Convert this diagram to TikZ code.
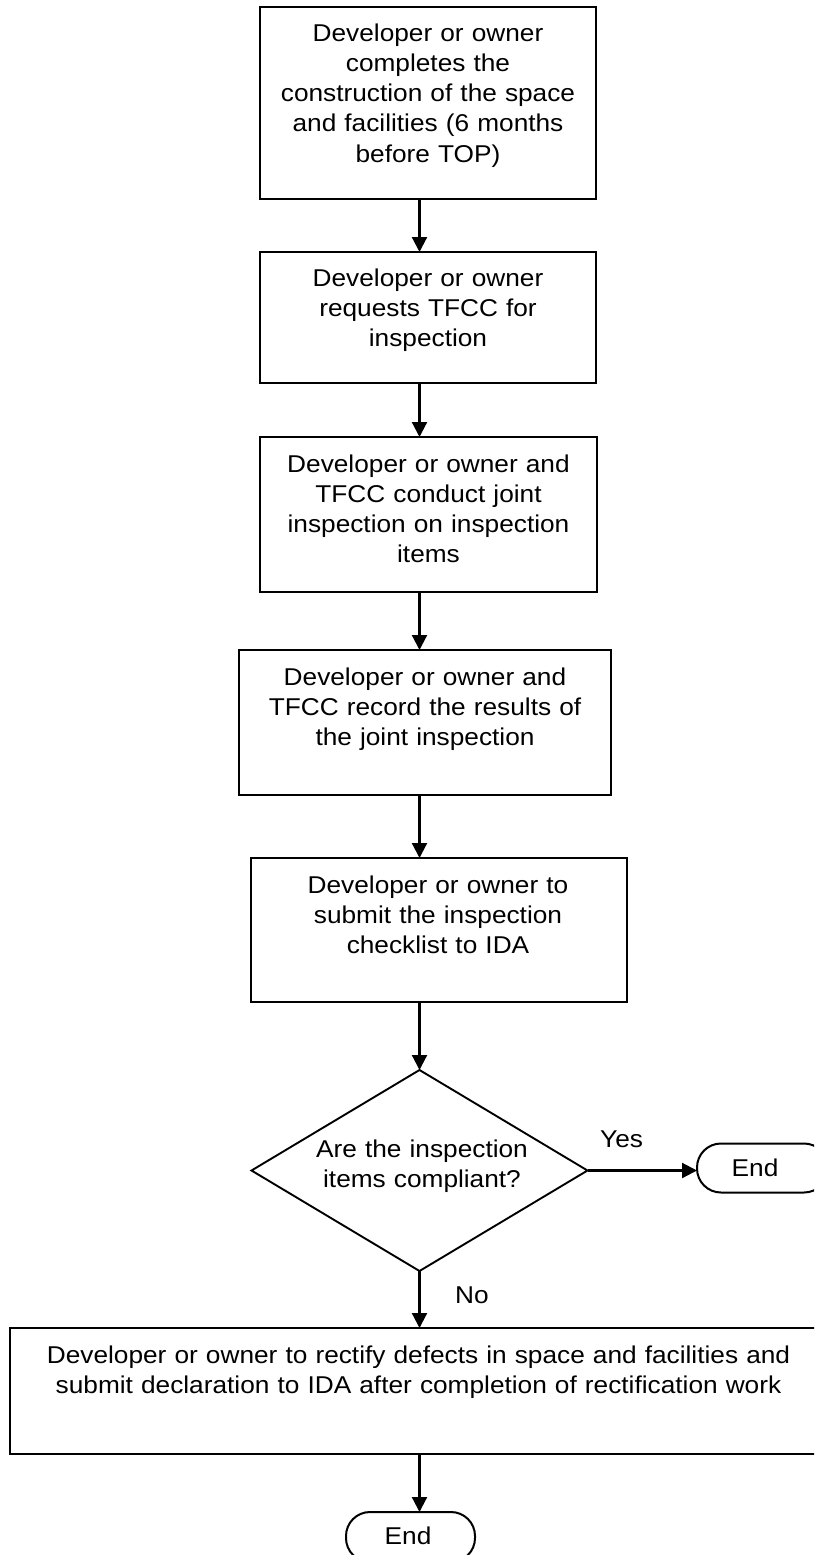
\documentclass[tikz,border=0pt]{standalone}
\usepackage{fontspec}
\setmainfont{Liberation Sans}[FakeStretch=1.08]
\usetikzlibrary{shapes.geometric,arrows.meta,calc}
\tikzset{
  boxnode/.style={draw, line width=2.2bp, inner sep=0pt, outer sep=0pt},
  txt/.style={font=\fontsize{24.3bp}{30bp}\selectfont, text width=#1, align=center, anchor=base, inner sep=0pt},
  txt/.default=400bp,
  lbl/.style={font=\fontsize{24.3bp}{30bp}\selectfont, anchor=base west, inner sep=0pt},
  arr/.style={line width=2.2bp, -{Triangle[length=15bp,width=15bp]}},
  termnode/.style={draw, line width=2bp, rounded corners=24bp, inner sep=0pt, outer sep=0pt},
  decnode/.style={draw, diamond, line width=1.9bp, inner sep=0pt, outer sep=0pt}
}
\begin{document}
\begin{tikzpicture}[x=1bp,y=-1bp]
\useasboundingbox (0,0) rectangle (814,1555);
\clip (0,0) rectangle (814,1555);
\fill[white] (0,0) rectangle (814,1555);
\coordinate (ax) at (419.5,0);

\node[boxnode, minimum width=336bp, minimum height=192bp] (b1) at (428,103) {};
\node[txt] (t1) at (428,42) {Developer or owner\\completes the\\construction of the space\\and facilities (6 months\\before TOP)};

\node[boxnode, minimum width=336bp, minimum height=131bp] (b2) at (428,317.5) {};
\node[txt] (t2) at (428,286) {Developer or owner\\requests TFCC for\\inspection};

\node[boxnode, minimum width=337bp, minimum height=155bp] (b3) at (428.5,514.5) {};
\node[txt] (t3) at (428.5,472) {Developer or owner and\\TFCC conduct joint\\inspection on inspection\\items};

\node[boxnode, minimum width=372bp, minimum height=145bp] (b4) at (425,722.5) {};
\node[txt] (t4) at (425,685) {Developer or owner and\\TFCC record the results of\\the joint inspection};

\node[boxnode, minimum width=376bp, minimum height=144bp] (b5) at (439,930) {};
\node[txt] (t5) at (438,893) {Developer or owner to\\submit the inspection\\checklist to IDA};

\node[decnode, minimum width=336bp, minimum height=201bp] (dia) at (419.5,1170.5) {};
\node[txt] (td) at (422,1157) {Are the inspection\\items compliant?};

\node[termnode, minimum width=131bp, minimum height=49bp] (endR) at (762.5,1168) {};
\node[txt=100bp] (tendR) at (755,1176) {End};

\node[boxnode, minimum width=820bp, minimum height=126bp] (b6) at (420,1391) {};
\node[txt=800bp] (t6) at (418.5,1363) {Developer or owner to rectify defects in space and facilities and\\submit declaration to IDA after completion of rectification work};

\node[termnode, minimum width=129bp, minimum height=50bp] (endB) at (410.5,1537) {};
\node[txt=100bp] (tendB) at (408,1544) {End};

\draw[arr] (b1.south -| ax) -- (b2.north -| ax);
\draw[arr] (b2.south -| ax) -- (b3.north -| ax);
\draw[arr] (b3.south -| ax) -- (b4.north -| ax);
\draw[arr] (b4.south -| ax) -- (b5.north -| ax);
\draw[arr] (b5.south -| ax) -- (dia.north);
\draw[arr] (dia.east) -- (dia.east -| endR.west);
\draw[arr] (dia.south) -- (b6.north -| dia.south);
\draw[arr] (b6.south -| ax) -- (endB.north -| ax);

\node[lbl] (yes) at (600,1147) {Yes};
\node[lbl] (no) at (455,1303) {No};
\end{tikzpicture}
\end{document}
